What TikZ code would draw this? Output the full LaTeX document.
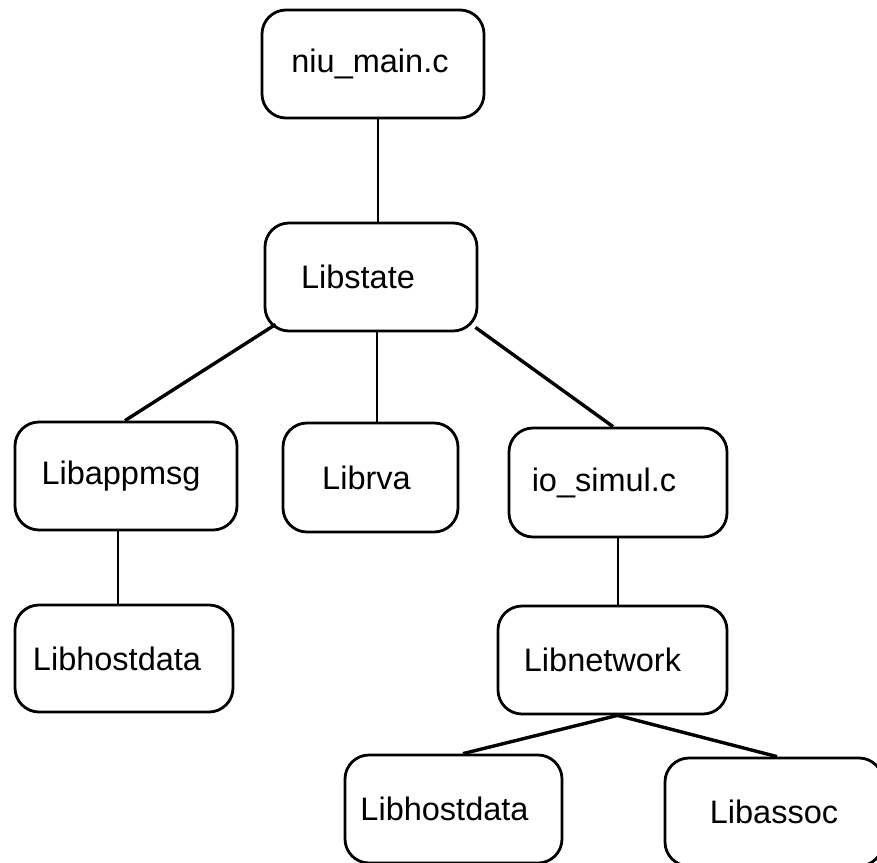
\documentclass[tikz,border=0pt]{standalone}
\usepackage{fontspec}
\setmainfont{Liberation Sans}
\begin{document}
\begin{tikzpicture}[x=1pt,y=-1pt,
  modbox/.style={draw, line width=2.8pt, rounded corners=24pt, inner sep=0pt,
    minimum width=#1, font=\fontsize{32.5}{39}\selectfont},
  tall/.style={minimum height=#1},
  tshift/.style={execute at end node={\hspace*{#1}}},
  link/.style={line width=2.6pt},
  slant/.style={line width=3.4pt}]
\useasboundingbox (0,0) rectangle (877,862);

% module boxes
\node[modbox=222, tall=108, tshift=6pt]  (main)   at (373,64)    {niu\_main.c};
\node[modbox=212, tall=108, tshift=26pt] (state)  at (371,277)   {Libstate};
\node[modbox=222, tall=108, tshift=10pt] (appmsg) at (126,476)   {Libappmsg};
\node[modbox=175, tall=109, tshift=8pt]  (rva)    at (370.5,477.5) {Librva};
\node[modbox=218, tall=109, tshift=28pt] (io)     at (618,482.5) {io\_simul.c};
\node[modbox=218, tall=107, tshift=14pt] (hostl)  at (124,658.5) {Libhostdata};
\node[modbox=229, tall=108, tshift=20pt] (net)    at (612.5,660) {Libnetwork};
\node[modbox=217, tall=108, tshift=18pt] (hostb)  at (453.5,809) {Libhostdata};
\node[modbox=218, tall=108]              (assoc)  at (774,812)   {Libassoc};

% connectors
\draw[link]  ([xshift=5pt]main.south) -- ([xshift=7pt]state.north);
\draw[slant] ([xshift=12pt,yshift=8pt]state.south west) -- ([xshift=-1pt]appmsg.north);
\draw[link]  ([xshift=6pt]state.south) -- ([xshift=6.5pt]rva.north);
\draw[slant] ([xshift=-3pt,yshift=5pt]state.south east) -- ([xshift=-5pt]io.north);
\draw[link]  ([xshift=-8pt]appmsg.south) -- ([xshift=-6pt]hostl.north);
\draw[link]  (io.south) -- ([xshift=5.5pt]net.north);
\draw[slant] ([xshift=5pt]net.south) -- ([xshift=9.5pt]hostb.north);
\draw[slant] ([xshift=5pt]net.south) -- ([xshift=3pt]assoc.north);
\end{tikzpicture}
\end{document}
